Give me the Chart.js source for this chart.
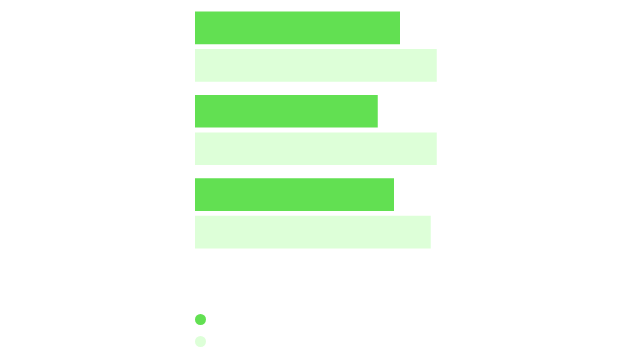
<!DOCTYPE html>
<html>
<head>
<meta charset="utf-8">
<script src="https://cdn.jsdelivr.net/npm/chart.js@4"></script>
<style>
    html, body { margin: 0; padding: 0; background: #ffffff; }
    #wrap { position: relative; width: 640px; height: 360px; }
    #chartBox { position: absolute; left: 0; top: 0; width: 640px; height: 260px; }
    #legend { position: absolute; left: 195px; top: 308px; margin: 0; padding: 0; list-style: none; }
    #legend li { height: 22px; display: flex; align-items: center; }
    #legend span { display: inline-block; width: 11px; height: 11px; border-radius: 50%; }
</style>
</head>
<body>
<div id="wrap">
    <div id="chartBox"><canvas id="myChart"></canvas></div>
    <ul id="legend"></ul>
</div>
<script>
// Chart data
const categories = ['A', 'B', 'C'];
const seriesNames = ['Series 1', 'Series 2'];
const series1 = [82, 73.1, 79.6];
const series2 = [96.7, 96.7, 94.3];
const xMax = 100;

const colors = ['#62e052', '#ddffd8'];

// Create the chart
const ctx = document.getElementById('myChart').getContext('2d');
const chart = new Chart(ctx, {
    type: 'bar',
    data: {
        labels: categories,
        datasets: [series1, series2].map((values, i) => ({
            label: seriesNames[i],
            data: values,
            backgroundColor: colors[i],
            borderWidth: 0,
            categoryPercentage: 0.9,
            barPercentage: 0.87
        }))
    },
    options: {
        indexAxis: 'y',
        responsive: true,
        maintainAspectRatio: false,
        animation: false,
        layout: {
            padding: { left: 195, right: 195, top: 5, bottom: 5 }
        },
        scales: {
            x: { display: false, min: 0, max: xMax },
            y: { display: false }
        },
        plugins: {
            legend: { display: false },
            tooltip: { enabled: false }
        }
    }
});

// Build the legend markers from the chart's datasets
const legendList = document.getElementById('legend');
chart.data.datasets.forEach(ds => {
    const li = document.createElement('li');
    const dot = document.createElement('span');
    dot.style.background = ds.backgroundColor;
    li.appendChild(dot);
    legendList.appendChild(li);
});
</script>
</body>
</html>
